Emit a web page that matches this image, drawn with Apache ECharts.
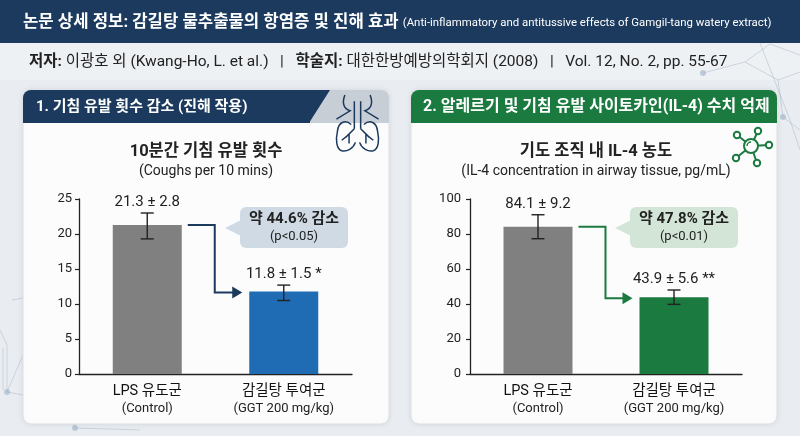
<!DOCTYPE html>
<html lang="ko">
<head>
<meta charset="UTF-8">
<title>감길탕 물추출물의 항염증 및 진해 효과</title>
<script src="https://cdn.jsdelivr.net/npm/echarts@6.0.0/dist/echarts.min.js"></script>
<style>
  html, body { margin: 0; padding: 0; background: #e9edf1; }
  #main { width: 800px; height: 436px; }
</style>
</head>
<body>
<div id="main"></div>
<script>
// 공통 범주
var groups = ['LPS 유도군', '감길탕 투여군'];
var groupNotes = ['(Control)', '(GGT 200 mg/kg)'];

// 1. 10분간 기침 유발 횟수
var coughMean = [21.3, 11.8];
var coughSd = [2.8, 1.5];
var coughSig = ['', '*'];
var coughErrLow = [19.3, 10.5];   // 그림에 그려진 오차막대 끝
var coughErrHigh = [23.0, 12.7];
var coughTicks = [0, 5, 10, 15, 20, 25];

// 2. 기도 조직 내 IL-4 농도
var il4Mean = [84.1, 43.9];
var il4Sd = [9.2, 5.6];
var il4Sig = ['', '**'];
var il4ErrLow = [77.3, 39.8];
var il4ErrHigh = [91.0, 48.0];
var il4Ticks = [0, 20, 40, 60, 80, 100];

var pValues = ['p<0.05', 'p<0.01'];

var FONT = "Roboto, 'Noto Sans CJK KR', sans-serif";
var NAVY = '#1b3a5e';
var BLUE = '#1f6cb5';
var GREEN = '#1b7a3f';
var GRAY = '#808080';
var INK = '#222';
var BAR_W = 69;

var chart = echarts.init(document.getElementById('main'));

function valueLabel(mean, sd, sig) {
  return mean.toFixed(1) + ' ± ' + sd.toFixed(1) + (sig ? ' ' + sig : '');
}
function drop(mean) {
  return ((mean[0] - mean[1]) / mean[0] * 100).toFixed(1);
}

// 오차막대 + 값 라벨
function errorRenderer(labels) {
  return function (params, api) {
    var x = api.value(0);
    var lo = api.coord([x, api.value(1)]);
    var hi = api.coord([x, api.value(2)]);
    var cap = 6.5;
    var st = { stroke: INK, lineWidth: 1.4 };
    return {
      type: 'group',
      children: [
        { type: 'line', shape: { x1: lo[0], y1: lo[1], x2: hi[0], y2: hi[1] }, style: st },
        { type: 'line', shape: { x1: hi[0] - cap, y1: hi[1], x2: hi[0] + cap, y2: hi[1] }, style: st },
        { type: 'line', shape: { x1: lo[0] - cap, y1: lo[1], x2: lo[0] + cap, y2: lo[1] }, style: st },
        {
          type: 'text',
          style: {
            text: labels[params.dataIndex], x: hi[0], y: hi[1] - 11,
            align: 'center', verticalAlign: 'middle',
            fontSize: 15, fontFamily: FONT, fill: INK
          }
        }
      ]
    };
  };
}

// 대조군 막대 -> 투여군 막대 꺾은 화살표
function connectorRenderer(color) {
  return function (params, api) {
    var a = api.coord([0, api.value(1)]);
    var b = api.coord([1, api.value(2)]);
    var half = BAR_W / 2;
    var x0 = a[0] + half + 6, xm = x0 + 27, y1 = b[1] + 1, tip = b[0] - half - 7;
    return {
      type: 'group',
      children: [
        { type: 'polyline', shape: { points: [[x0, a[1]], [xm, a[1]], [xm, y1], [tip - 8, y1]] },
          style: { stroke: color, lineWidth: 2, fill: null } },
        { type: 'polygon', shape: { points: [[tip, y1], [tip - 10, y1 - 6], [tip - 10, y1 + 6]] },
          style: { fill: color } }
      ]
    };
  };
}

// 폐 아이콘 (좌표계 없는 custom 시리즈에서 그림)
function lungsRenderer() {
  return {
    type: 'path',
    shape: {
      pathData:
        'M345,96 C342,104 344,109 350,111 L337,119 ' +
        'M369,96 C372,104 370,109 364,111 L377,119 ' +
        'M354,102 L354,128 M360,102 L360,128 ' +
        'M354,128 L346,136 M360,128 L368,136 ' +
        'M349,133 L349,142 M365,133 L365,142 M347,135 L342,139 M367,135 L372,139 ' +
        'M351,124 C345,119 339,122 338,130 C336,139 337,147 342,149 C347,150 353,147 355,141 ' +
        'M363,124 C369,119 375,122 376,130 C378,139 377,147 372,149 C367,150 361,147 359,141',
      layout: 'center', x: 336, y: 95, width: 43, height: 56
    },
    style: { stroke: NAVY, lineWidth: 1.5, fill: null }
  };
}

function yAxis(idx, ticks, margin) {
  return {
    type: 'value', gridIndex: idx,
    min: ticks[0], max: ticks[ticks.length - 1], interval: ticks[1] - ticks[0],
    axisLine: { show: true, lineStyle: { color: INK, width: 1.3 } },
    axisTick: { show: true, length: 4, lineStyle: { color: INK, width: 1.2 } },
    axisLabel: { color: INK, fontSize: 13, fontFamily: FONT, margin: margin },
    splitLine: { show: false }
  };
}

function xAxis(idx) {
  return {
    type: 'category', gridIndex: idx, data: groups,
    axisLine: { lineStyle: { color: INK, width: 1.3 } },
    axisTick: { show: false },
    axisLabel: {
      interval: 0, margin: 8,
      formatter: function (v, i) { return '{a|' + v + '}\n{b|' + groupNotes[i] + '}'; },
      rich: {
        a: { fontSize: 14.5, color: '#111', fontFamily: FONT, lineHeight: 18 },
        b: { fontSize: 13, color: INK, fontFamily: FONT, lineHeight: 17 }
      }
    }
  };
}

function txt(text, x, y, size, opts) {
  opts = opts || {};
  return {
    type: 'text', z: 1,
    style: {
      text: text, x: x, y: y,
      align: opts.align || 'center', verticalAlign: 'middle',
      fontSize: size, fontWeight: opts.bold ? 'bold' : 'normal',
      fontFamily: FONT, fill: opts.color || INK, rich: opts.rich
    }
  };
}

function callout(cx, y, fill, pct, p) {
  var left = cx - 54;
  return [
    { type: 'rect', z: 1, shape: { x: left, y: y, width: 108, height: 41, r: 6 }, style: { fill: fill } },
    { type: 'polygon', z: 1, shape: { points: [[left + 1, y + 13], [left - 15, y + 21], [left + 1, y + 29]] }, style: { fill: fill } },
    txt('약 ' + pct + '% 감소', cx, y + 12, 15, { bold: true }),
    txt('(' + p + ')', cx, y + 30, 13)
  ];
}

var netStyle = { stroke: '#9fb1c6', lineWidth: 1, fill: null, opacity: 0.45 };
var network = [
  { type: 'polyline', shape: { points: [[0, 330], [7, 345], [7, 392], [67, 403], [75, 428], [140, 430]] }, style: netStyle },
  { type: 'polyline', shape: { points: [[3, 348], [3, 390]] }, style: netStyle },
  { type: 'polyline', shape: { points: [[7, 392], [50, 293], [98, 357], [68, 356], [67, 403]] }, style: netStyle },
  { type: 'polyline', shape: { points: [[12, 300], [50, 293], [35, 250]] }, style: netStyle },
  { type: 'polyline', shape: { points: [[703, 73], [745, 62], [770, 44], [800, 55]] }, style: netStyle },
  { type: 'polyline', shape: { points: [[745, 62], [778, 80], [800, 72]] }, style: netStyle },
  { type: 'polyline', shape: { points: [[760, 43], [790, 120], [800, 150]] }, style: netStyle },
  { type: 'polyline', shape: { points: [[778, 80], [783, 117], [800, 130]] }, style: netStyle }
].concat([[7, 392], [50, 293], [68, 356], [98, 357], [75, 428], [703, 73], [783, 117]].map(function (c) {
  return { type: 'circle', shape: { cx: c[0], cy: c[1], r: 3 }, style: { fill: '#9fb1c6', opacity: 0.6 } };
}));

var molCenter = [751, 146];
var molSats = [[737, 135], [758, 131], [769, 145], [757, 163], [736, 158]];
var molecule = molSats.map(function (s) {
  return { type: 'line', z: 1, shape: { x1: molCenter[0], y1: molCenter[1], x2: s[0], y2: s[1] }, style: { stroke: GREEN, lineWidth: 2 } };
}).concat(molSats.map(function (s) {
  return { type: 'circle', z: 1, shape: { cx: s[0], cy: s[1], r: 3.2 }, style: { fill: '#fff', stroke: GREEN, lineWidth: 2 } };
})).concat([
  { type: 'circle', z: 1, shape: { cx: molCenter[0], cy: molCenter[1], r: 7 }, style: { fill: '#fff', stroke: GREEN, lineWidth: 2 } },
  { type: 'arc', z: 1, shape: { cx: molCenter[0], cy: molCenter[1], r: 4, startAngle: Math.PI, endAngle: Math.PI * 1.5 }, style: { stroke: GREEN, lineWidth: 1.5, fill: null } }
]);

var cardStyle = { fill: '#fcfcfd', stroke: '#dce1e7', lineWidth: 1, shadowBlur: 6, shadowColor: 'rgba(0,0,0,0.08)' };

var graphics = [
  { type: 'rect', shape: { x: 0, y: 43, width: 800, height: 37 }, style: { fill: '#eef1f4' } }
].concat(network).concat([
  { type: 'rect', shape: { x: 0, y: 0, width: 800, height: 43 }, style: { fill: NAVY } },
  txt('{t|논문 상세 정보: 감길탕 물추출물의 항염증 및 진해 효과} {e|(Anti-inflammatory and antitussive effects of Gamgil-tang watery extract)}',
    23, 23, 16.7, { align: 'left', color: '#fff', rich: {
      t: { fontSize: 16.7, fontWeight: 'bold', fill: '#fff', fontFamily: FONT },
      e: { fontSize: 11.4, fill: '#fff', fontFamily: FONT }
    } }),
  txt('{b|저자:} 이광호 외 (Kwang-Ho, L. et al.)   |   {b|학술지:} 대한한방예방의학회지 (2008)   |   Vol. 12, No. 2, pp. 55-67',
    29, 62, 15.5, { align: 'left', rich: {
      b: { fontSize: 15.5, fontWeight: 'bold', fill: INK, fontFamily: FONT }
    } }),

  // 카드 1
  { type: 'rect', shape: { x: 23, y: 90, width: 366, height: 334, r: 8 }, style: cardStyle },
  { type: 'rect', shape: { x: 23, y: 90, width: 366, height: 33, r: [8, 8, 0, 0] }, style: { fill: '#c8ced6' } },
  { type: 'rect', shape: { x: 23, y: 90, width: 287, height: 33, r: [8, 0, 0, 0] }, style: { fill: NAVY } },
  { type: 'polygon', shape: { points: [[309, 90], [330, 90], [309, 123]] }, style: { fill: NAVY } },
  txt('1. 기침 유발 횟수 감소 (진해 작용)', 36, 107, 15, { align: 'left', bold: true, color: '#fff' }),
  txt('10분간 기침 유발 횟수', 206, 152, 16.5, { bold: true }),
  txt('(Coughs per 10 mins)', 206, 171, 14),

  // 카드 2
  { type: 'rect', shape: { x: 411, y: 90, width: 366, height: 334, r: 8 }, style: cardStyle },
  { type: 'rect', shape: { x: 411, y: 90, width: 366, height: 33, r: [8, 8, 0, 0] }, style: { fill: GREEN } },
  txt('2. 알레르기 및 기침 유발 사이토카인(IL-4) 수치 억제', 423, 107, 16, { align: 'left', bold: true, color: '#fff' }),
  txt('기도 조직 내 IL-4 농도', 596, 152, 16.5, { bold: true }),
  txt('(IL-4 concentration in airway tissue, pg/mL)', 596, 171, 14)
]).concat(molecule)
  .concat(callout(294, 207, '#cfdae5', drop(coughMean), pValues[0]))
  .concat(callout(684, 207, '#d3e5d6', drop(il4Mean), pValues[1]));

chart.setOption({
  backgroundColor: '#e9edf1',
  animation: false,
  graphic: { elements: graphics },
  grid: [
    { left: 79, right: 448, top: 199, bottom: 62 },
    { left: 470, right: 58, top: 199, bottom: 62 }
  ],
  xAxis: [xAxis(0), xAxis(1)],
  yAxis: [yAxis(0, coughTicks, 7), yAxis(1, il4Ticks, 9)],
  series: [
    {
      type: 'bar', xAxisIndex: 0, yAxisIndex: 0, barWidth: BAR_W,
      data: coughMean.map(function (v, i) { return { value: v, itemStyle: { color: i === 0 ? GRAY : BLUE } }; })
    },
    {
      type: 'custom', xAxisIndex: 0, yAxisIndex: 0, z: 5,
      renderItem: errorRenderer(coughMean.map(function (m, i) { return valueLabel(m, coughSd[i], coughSig[i]); })),
      encode: { x: 0, y: [1, 2] },
      data: groups.map(function (g, i) { return [i, coughErrLow[i], coughErrHigh[i]]; })
    },
    {
      type: 'custom', xAxisIndex: 0, yAxisIndex: 0, z: 5,
      renderItem: connectorRenderer(NAVY),
      encode: { x: 0, y: [1, 2] },
      data: [[0, coughMean[0], coughMean[1]]]
    },
    {
      type: 'bar', xAxisIndex: 1, yAxisIndex: 1, barWidth: BAR_W,
      data: il4Mean.map(function (v, i) { return { value: v, itemStyle: { color: i === 0 ? GRAY : GREEN } }; })
    },
    {
      type: 'custom', xAxisIndex: 1, yAxisIndex: 1, z: 5,
      renderItem: errorRenderer(il4Mean.map(function (m, i) { return valueLabel(m, il4Sd[i], il4Sig[i]); })),
      encode: { x: 0, y: [1, 2] },
      data: groups.map(function (g, i) { return [i, il4ErrLow[i], il4ErrHigh[i]]; })
    },
    {
      type: 'custom', xAxisIndex: 1, yAxisIndex: 1, z: 5,
      renderItem: connectorRenderer(GREEN),
      encode: { x: 0, y: [1, 2] },
      data: [[0, il4Mean[0], il4Mean[1]]]
    },
    {
      type: 'custom', coordinateSystem: 'none', z: 5, silent: true,
      renderItem: lungsRenderer,
      data: [0]
    }
  ]
});
</script>
</body>
</html>
